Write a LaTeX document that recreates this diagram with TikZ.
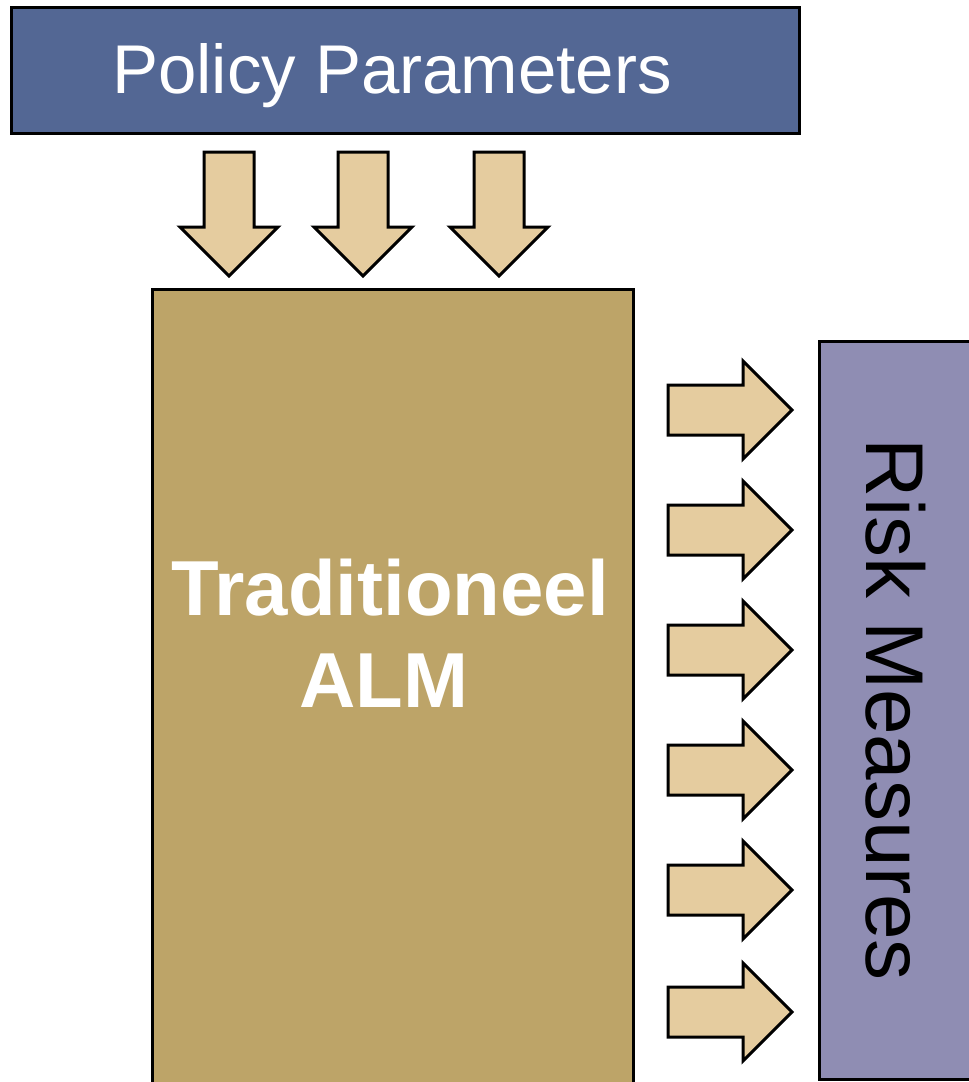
\documentclass[tikz,border=0pt]{standalone}
\usepackage{fontspec}
\setmainfont{Liberation Sans}
\definecolor{policyblue}{RGB}{83,103,148}
\definecolor{almgold}{RGB}{189,164,104}
\definecolor{riskpurple}{RGB}{143,141,179}
\definecolor{arrowtan}{RGB}{229,204,159}

\begin{document}
\begin{tikzpicture}[x=1pt, y=-1pt,
        block/.style={draw=black, line width=3pt, rectangle, inner sep=0pt},
        fatarrow/.pic={
            \draw[fill=arrowtan, line width=3pt]
                (0,-25) -- (75,-25) -- (75,-49) -- (124,0) -- (75,49) -- (75,25) -- (0,25) -- cycle;
        }]

        % Canvas of the picture
        \useasboundingbox (0,0) rectangle (969,1082);
        \clip (0,0) rectangle (969,1082);

        % Boxes
        \node[block, fill=policyblue, minimum width=788pt, minimum height=126pt] (policy) at (405,70) {};
        \node[anchor=base, text=white, font=\fontsize{69}{80}\selectfont] (policytext) at (392,93) {Policy Parameters};

        \node[block, fill=almgold, minimum width=481pt, minimum height=810pt] (alm) at (392.5,694) {};
        \node[anchor=base, text=white, font=\bfseries\fontsize{78}{92}\selectfont] (almtop) at (390,615) {Traditioneel};
        \node[anchor=base, text=white, font=\bfseries\fontsize{78}{92}\selectfont] (almbottom) at (384,707) {ALM};

        \node[block, fill=riskpurple, minimum width=170pt, minimum height=738pt] (risk) at (904,710) {};
        \node[anchor=base, rotate=-90, font=\fontsize{82}{90}\selectfont] (risktext) at (866,710) {Risk Measures};

        % Inputs from the policy box
        \foreach \x in {229,363,499}
            \pic[rotate=-90] at (\x,152) {fatarrow};

        % Outputs towards the risk box
        \foreach \y in {410,530,650,770,890,1012}
            \pic at (668,\y) {fatarrow};

\end{tikzpicture}
\end{document}
